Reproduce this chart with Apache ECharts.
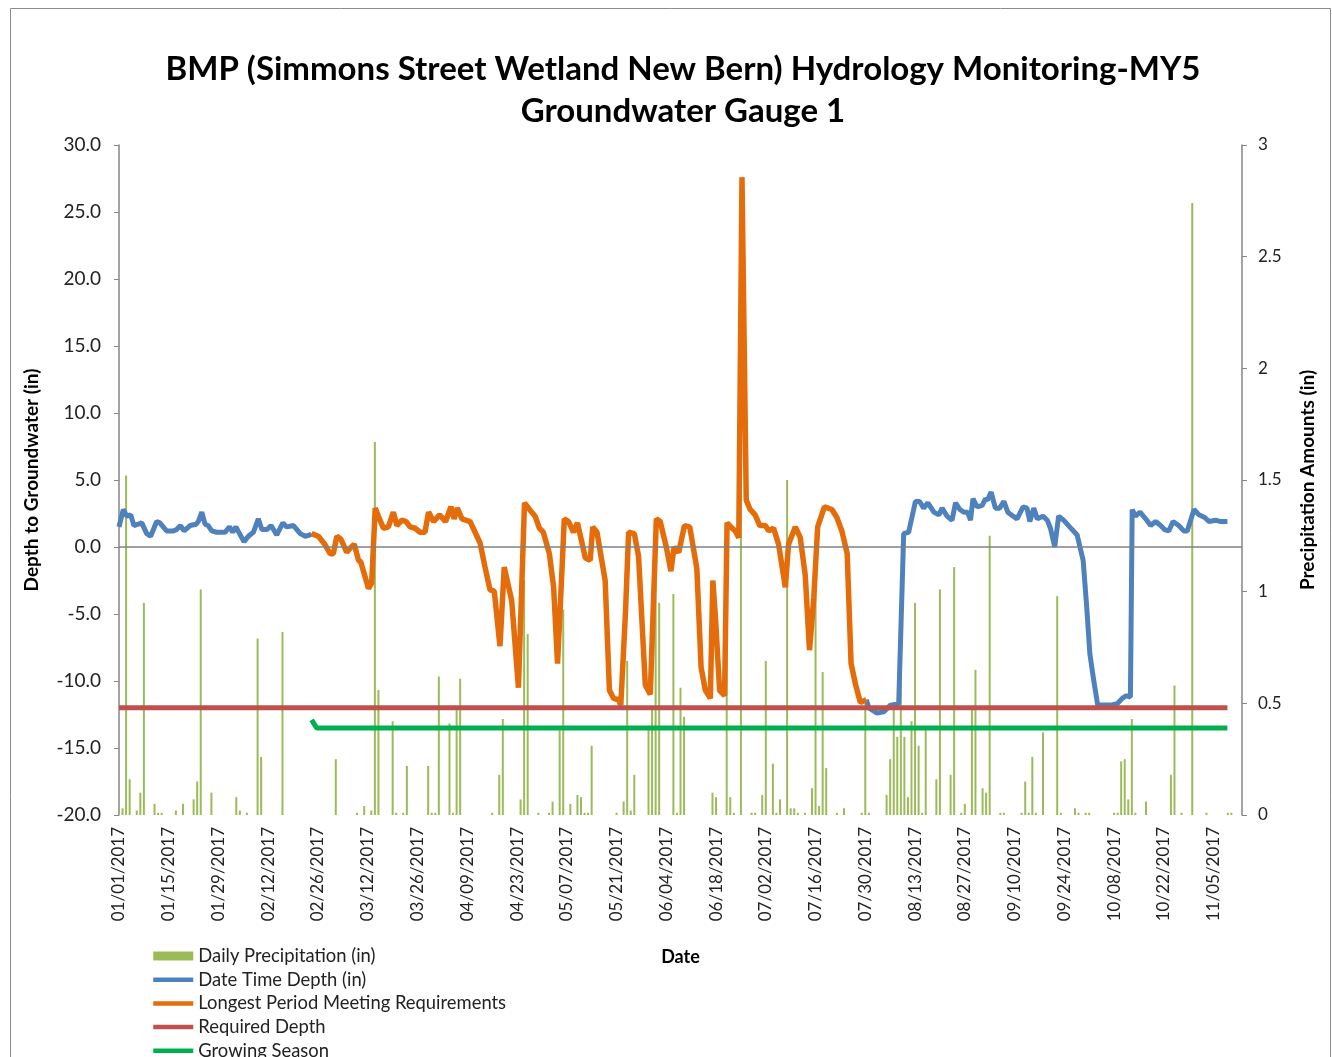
<!DOCTYPE html>
<html>
<head>
<meta charset="utf-8">
<title>Groundwater Gauge 1</title>
<script src="https://cdn.jsdelivr.net/npm/echarts@6/dist/echarts.min.js"></script>
<style>
  html, body { margin: 0; padding: 0; background: #fff; }
  #chart { width: 1332px; height: 1057px; }
</style>
</head>
<body>
<div id="chart"></div>
<script>
// x values are days counted from 01/01/2017 (day 0)
const dateLabels = ['01/01/2017', '01/15/2017', '01/29/2017', '02/12/2017', '02/26/2017', '03/12/2017',
  '03/26/2017', '04/09/2017', '04/23/2017', '05/07/2017', '05/21/2017', '06/04/2017', '06/18/2017',
  '07/02/2017', '07/16/2017', '07/30/2017', '08/13/2017', '08/27/2017', '09/10/2017', '09/24/2017',
  '10/08/2017', '10/22/2017', '11/05/2017'];

// Date Time Depth (in), before the longest period
const depthStart = [[0,1.5],[1.2,2.8],[2.2,2.3],[3.3,2.4],[4.2,1.6],[5.4,1.7],[6.4,1.8],[7.8,1.0],[8.9,0.8],
  [10.6,1.9],[11.5,1.8],[13.4,1.2],[15.3,1.2],[16.2,1.3],[17.3,1.6],[18.3,1.2],[20,1.6],[21.7,1.7],[22.3,1.9],
  [23.3,2.6],[24.2,1.7],[25.1,1.6],[26.1,1.2],[27.5,1.1],[29.8,1.1],[31.1,1.5],[32,1.1],[32.9,1.5],[33.9,1.0],
  [35.2,0.4],[36.4,0.8],[37.8,1.1],[39.2,2.1],[40.2,1.3],[41.6,1.3],[42.8,1.6],[44.4,0.9],[46.1,1.8],[47.2,1.5],
  [49.1,1.6],[51,1.0],[52.4,0.8],[53.8,0.9],[54.2,1.0]];

// Longest Period Meeting Requirements
const longestPeriod = [[54.2,1.0],[56.1,0.8],[57.9,0.2],[59.4,-0.5],[60.3,-0.5],[61.3,0.8],[62.4,0.6],[64.1,-0.4],
  [65,-0.1],[66.2,0.2],[67.4,-1.0],[68,-1.1],[69,-2.0],[70.2,-3.1],[71.1,-2.7],[72.1,2.9],[73,2.3],[74.4,1.4],
  [75.8,1.5],[77.2,2.6],[78.2,1.6],[79.6,2.0],[80.8,1.9],[81.9,1.5],[83.3,1.4],[84.7,1.1],[86.1,1.1],[87.1,2.6],
  [88.5,1.9],[90.2,2.4],[91.9,1.9],[93.4,3.0],[94.3,2.1],[95.2,2.9],[96.5,2.1],[98.8,1.9],[100.2,1.1],[101.6,0.3],
  [103,-1.5],[104.4,-3.2],[105.6,-3.3],[107.2,-7.4],[108.4,-1.5],[110.5,-4.0],[112.4,-10.5],[114.1,3.3],
  [115.5,2.8],[117.1,2.3],[118.3,1.4],[119.4,1.1],[121.1,-0.5],[122.3,-3.0],[123.4,-8.7],[124.3,-3.7],
  [125.3,2.1],[126.5,1.9],[127.9,1.1],[129,1.8],[130.2,0.4],[131.2,-0.8],[132.6,-1.0],[133.3,1.5],[134.5,1.1],
  [136.8,-2.5],[138,-10.7],[139.2,-11.3],[140.6,-11.4],[141.2,-11.8],[142.5,-5.0],[143.4,1.1],[145,1.0],
  [146.2,-0.7],[148.1,-10.3],[149.5,-11.0],[151.2,2.1],[152.3,1.9],[154,0.0],[155.3,-1.8],[156.2,0.0],
  [157.5,-0.4],[159.1,1.6],[160.6,1.5],[161.7,-0.2],[162.6,-1.6],[163.8,-9.0],[165,-10.7],[166.4,-11.3],
  [167.1,-2.5],[167.8,-5.1],[169,-10.7],[170.4,-11.1],[171.1,1.8],[172.2,1.5],[173.4,1.2],[174.4,0.7],
  [175.3,27.6],[176.5,3.5],[177.6,2.8],[179,2.4],[180.3,1.6],[181.9,1.6],[182.8,1.2],[184.2,1.4],[185.6,0.2],
  [187.5,-3.0],[188.4,0.2],[190.3,1.5],[191.7,0.7],[193.1,-2.1],[194.3,-7.7],[195.5,-3.8],[196.6,1.5],
  [198.5,3.0],[200.6,2.8],[202,2.2],[203.4,1.2],[204.9,-0.5],[206,-8.7],[207.2,-10.2],[208.6,-11.6],[210.3,-11.4]];

// Date Time Depth (in), after the longest period
const depthEnd = [[210.3,-11.4],[211,-12.0],[213.3,-12.4],[215.2,-12.3],[217.1,-11.8],[219.4,-11.7],[220.8,1.0],
  [222.2,1.1],[224.1,3.4],[225.3,3.4],[226.4,2.9],[227.6,3.3],[229.3,2.6],[230.7,2.4],[231.6,2.9],[233,2.3],
  [234.4,2.0],[235.4,3.3],[236.6,2.8],[237.7,2.6],[238.8,2.6],[239.6,2.0],[240.3,3.6],[241.5,3.0],[242.9,3.1],
  [243.8,3.6],[244.4,3.5],[245.4,4.1],[246.6,2.9],[247.8,2.9],[249,3.4],[250.1,2.6],[251.6,2.3],[252.7,2.1],
  [254.4,3.0],[255.5,2.9],[256.3,1.9],[257.4,2.9],[258.4,2.1],[260,2.3],[261.2,2.0],[262.1,1.4],[263.3,0.0],
  [264.4,2.3],[265.8,2.0],[267.5,1.5],[269.6,0.9],[271.3,-1.0],[272.2,-4.1],[273.2,-8.0],[274.3,-10.0],
  [275.4,-11.8],[279,-11.8],[280.9,-11.7],[282.3,-11.3],[283.5,-11.1],[284.6,-11.2],[285.1,2.8],[286,2.3],
  [287.3,2.6],[288.9,2.1],[290.3,1.6],[291.7,1.9],[293.1,1.6],[294.2,1.3],[295.4,1.2],[296.6,1.9],[298.2,1.6],
  [299.6,1.2],[300.6,1.2],[302.5,2.8],[303.9,2.4],[305.5,2.2],[306.7,1.9],[308.6,2.0],[310,1.9],[311.9,1.9]];

const requiredDepth = [[0,-12],[311.9,-12]];
const growingSeason = [[54.2,-12.9],[55.6,-13.5],[311.9,-13.5]];

// Daily Precipitation (in), right axis
const precipitation = [[1,0.03],[2,1.52],[3,0.16],[5,0.02],[6,0.10],[7,0.95],[10,0.05],[11,0.01],[12,0.01],
  [16,0.02],[18,0.05],[21,0.07],[22,0.15],[23,1.01],[26,0.10],[33,0.08],[34,0.02],[36,0.01],[39,0.79],[40,0.26],
  [46,0.82],[61,0.25],[67,0.01],[69,0.04],[71,0.02],[72,1.67],[73,0.56],[77,0.42],[78,0.01],[80,0.01],[81,0.22],
  [87,0.22],[88,0.01],[89,0.01],[90,0.62],[93,0.41],[94,0.01],[95,0.47],[96,0.61],[105,0.01],[107,0.18],
  [108,0.43],[113,0.07],[114,1.05],[115,0.81],[118,0.01],[121,0.01],[122,0.06],[124,0.38],[125,0.92],[127,0.05],
  [129,0.09],[130,0.08],[131,0.01],[132,0.01],[133,0.31],[140,0.01],[142,0.06],[143,0.69],[144,0.02],[145,0.18],
  [149,0.40],[150,0.47],[151,1.08],[152,0.95],[156,0.99],[157,0.01],[158,0.57],[159,0.44],[167,0.10],[168,0.08],
  [171,0.88],[172,0.08],[173,0.01],[175,1.45],[178,0.01],[179,0.01],[181,0.09],[182,0.69],[184,0.23],[185,0.01],
  [186,0.07],[188,1.50],[189,0.03],[190,0.03],[191,0.01],[193,0.01],[195,0.12],[196,1.05],[197,0.04],[198,0.64],
  [199,0.21],[202,0.01],[204,0.03],[209,0.01],[210,0.50],[211,0.01],[216,0.09],[217,0.25],[218,0.47],[219,0.35],
  [220,0.62],[221,0.35],[222,0.08],[223,0.42],[224,0.95],[225,0.31],[226,0.01],[227,0.38],[230,0.16],[231,1.01],
  [234,0.18],[235,1.11],[237,0.01],[238,0.05],[240,0.47],[241,0.65],[243,0.12],[244,0.10],[245,1.25],[248,0.01],
  [249,0.01],[254,0.01],[255,0.15],[256,0.01],[257,0.26],[258,0.01],[260,0.37],[264,0.98],[265,0.01],[269,0.03],
  [270,0.01],[272,0.01],[273,0.01],[280,0.01],[281,0.01],[282,0.24],[283,0.25],[284,0.07],[285,0.43],[286,0.01],
  [289,0.06],[296,0.18],[297,0.58],[299,0.01],[302,2.74],[306,0.01],[312,0.01],[313,0.01]];

const fontName = 'Lato';
const axisGray = '#868686';

// blue line is broken where the orange period is drawn
const depthAll = depthStart.concat([[130, '-']], depthEnd);

// legend line icons without the centre dot
const lineItem = (name, w) => ({name: name, itemStyle: {opacity: 0}, lineStyle: {width: w}});

const myChart = echarts.init(document.getElementById('chart'));
myChart.setOption({
  animation: false,
  title: {
    text: 'BMP (Simmons Street Wetland New Bern) Hydrology Monitoring-MY5\nGroundwater Gauge 1',
    left: 678,
    top: 43,
    textAlign: 'center',
    textStyle: {fontFamily: fontName, fontWeight: 'bold', fontSize: 33, lineHeight: 42, color: '#000'}
  },
  graphic: [{
    type: 'rect',
    shape: {x: 10.5, y: 8.5, width: 1320, height: 1100},
    style: {fill: 'none', stroke: '#8c8c8c', lineWidth: 1},
    silent: true
  }],
  legend: {
    orient: 'vertical',
    left: 151,
    top: 946,
    height: 200,
    padding: 0,
    itemWidth: 40,
    itemHeight: 9,
    itemGap: 3.7,
    textStyle: {fontFamily: fontName, fontSize: 18.4, color: '#222', lineHeight: 20},
    data: [
      {name: 'Daily Precipitation (in)', icon: 'rect'},
      lineItem('Date Time Depth (in)', 4.5),
      lineItem('Longest Period Meeting Requirements', 4.5),
      lineItem('Required Depth', 4.5),
      lineItem('Growing Season', 4.5)
    ]
  },
  grid: {left: 119, right: 90, top: 145, bottom: 242, containLabel: false},
  xAxis: {
    type: 'value',
    min: 0,
    max: 316,
    interval: 14,
    name: 'Date',
    nameLocation: 'middle',
    nameGap: 133,
    nameTextStyle: {fontFamily: fontName, fontWeight: 'bold', fontSize: 18, color: '#000'},
    axisLine: {show: false},
    axisTick: {show: false},
    splitLine: {show: false},
    axisLabel: {
      rotate: 90,
      margin: 12,
      showMaxLabel: false,
      fontFamily: fontName,
      fontSize: 17,
      color: '#222',
      formatter: v => dateLabels[Math.round(v / 14)] || ''
    }
  },
  yAxis: [{
    type: 'value',
    min: -20,
    max: 30,
    interval: 5,
    name: 'Depth to Groundwater (in)',
    nameLocation: 'middle',
    nameRotate: 90,
    nameGap: 78,
    nameTextStyle: {fontFamily: fontName, fontWeight: 'bold', fontSize: 19, color: '#000'},
    axisLine: {show: true, lineStyle: {color: axisGray, width: 1.5}},
    axisTick: {show: true, length: 5, lineStyle: {color: axisGray}},
    splitLine: {show: false},
    axisLabel: {margin: 18, fontFamily: fontName, fontSize: 19, color: '#222', formatter: v => v.toFixed(1)}
  }, {
    type: 'value',
    min: 0,
    max: 3,
    interval: 0.5,
    position: 'right',
    name: 'Precipitation Amounts (in)',
    nameLocation: 'middle',
    nameRotate: 90,
    nameGap: 56,
    nameTextStyle: {fontFamily: fontName, fontWeight: 'bold', fontSize: 19, color: '#000'},
    axisLine: {show: true, lineStyle: {color: axisGray, width: 1.5}},
    axisTick: {show: true, length: 5, lineStyle: {color: axisGray}},
    splitLine: {show: false},
    axisLabel: {margin: 16, fontFamily: fontName, fontSize: 17, color: '#222'}
  }],
  series: [
    {
      name: 'Daily Precipitation (in)',
      type: 'bar',
      yAxisIndex: 1,
      barWidth: 2,
      itemStyle: {color: '#9bbb59'},
      data: precipitation
    },
    {
      name: 'Date Time Depth (in)',
      type: 'line',
      symbol: 'none',
      lineStyle: {color: '#4f81bd', width: 5},
      itemStyle: {color: '#4f81bd'},
      data: depthAll
    },
    {
      name: 'Longest Period Meeting Requirements',
      type: 'line',
      symbol: 'none',
      lineStyle: {color: '#e46c0a', width: 5.5},
      itemStyle: {color: '#e46c0a'},
      data: longestPeriod
    },
    {
      name: 'Required Depth',
      type: 'line',
      symbol: 'none',
      lineStyle: {color: '#c0504d', width: 5},
      itemStyle: {color: '#c0504d'},
      data: requiredDepth,
      markLine: {
        silent: true,
        symbol: 'none',
        label: {show: false},
        lineStyle: {color: '#808080', width: 1.5, type: 'solid'},
        data: [{yAxis: 0}]
      }
    },
    {
      name: 'Growing Season',
      type: 'line',
      symbol: 'none',
      lineStyle: {color: '#00b050', width: 5},
      itemStyle: {color: '#00b050'},
      data: growingSeason
    }
  ]
});
</script>
</body>
</html>
